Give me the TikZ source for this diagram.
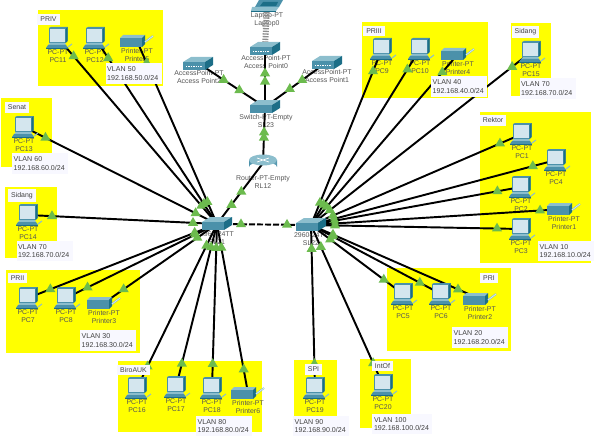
\documentclass[tikz,border=0pt]{standalone}
\usepackage{fontspec}
\setmainfont{Liberation Sans}
\usetikzlibrary{arrows.meta, positioning, shapes.geometric, calc}
\definecolor{zoneyellow}{RGB}{255, 255, 0}
\definecolor{notefill}{RGB}{248, 248, 255}
\definecolor{lampgreen}{RGB}{108, 187, 78}
\definecolor{devteal}{RGB}{75, 145, 170}
\definecolor{devdark}{RGB}{28, 110, 135}
\definecolor{devlight}{RGB}{140, 190, 205}
\definecolor{devscreen}{RGB}{212, 230, 238}
\definecolor{devtextcol}{RGB}{85, 85, 85}
\pgfdeclarelayer{zones}
\pgfdeclarelayer{links}
\pgfsetlayers{zones,links,main}

% name, position, icon, label offset, label
\newcommand{\devnode}[5]{
  \node[device] (#1) at (#2) {};
  \pic at (#1) {#3};
  \begin{pgfonlayer}{zones}
    \node[devtext] (#1txt) at ($(#1)+(#4)$) {#5};
  \end{pgfonlayer}
}
% link with its two lamps, d is the distance of the lamps from the ends
\newcommand{\devlink}[3][18pt]{
  \begin{pgfonlayer}{links}
    \draw[wire] (#2) -- (#3);
    \node[lamp] (#2#3a) at ($(#2)!#1!(#3)$) {};
    \node[lamp] (#2#3b) at ($(#3)!#1!(#2)$) {};
  \end{pgfonlayer}
}

\begin{document}
\begin{tikzpicture}[
  x=0.75pt, y=-0.75pt,
  zone/.style={fill=zoneyellow},
  device/.style={inner sep=0pt, outer sep=0pt, minimum size=0pt},
  devtext/.style={font=\fontsize{5.2}{5.8}\selectfont, text=devtextcol, align=center, inner sep=0pt},
  wire/.style={line width=1.45pt, black},
  lamp/.style={regular polygon, regular polygon sides=3, fill=lampgreen, inner sep=0pt, minimum size=8.8pt},
  vlanbox/.style={fill=notefill, font=\fontsize{5.3}{6.2}\selectfont, text=black!75, align=left,
                  minimum width=42pt, minimum height=15.5pt, inner sep=0pt, text width=39.5pt},
  titlebox/.style={fill=notefill, font=\fontsize{5.2}{6}\selectfont, text=black!75, inner sep=2.2pt},
  pcicon/.pic={
    \fill[devteal] (-9,-10) -- (-7,-11) -- (9.5,-11) -- (9.5,3) -- (7.5,5) -- (-9,5) -- cycle;
    \fill[devdark] (7.5,-9) -- (9.5,-11) -- (9.5,3) -- (7.5,5) -- cycle;
    \fill[devscreen] (-8,-9) rectangle (6.8,3.8);
    \fill[devlight] (-8,5) -- (7,5) -- (8,7) -- (-10,7) -- cycle;
    \fill[devteal] (-10,7) -- (8,7) -- (10,10) -- (-12,10) -- cycle;
    \fill[devdark] (-12,10) rectangle (10,10.8);
    \draw[devlight, line width=0.8pt] (10,9) -- (14,6);
  },
  printericon/.pic={
    \fill[devlight] (-17,-3) -- (-14,-6) -- (8,-6) -- (5,-3) -- cycle;
    \fill[devteal] (-17,-3) rectangle (5,6);
    \fill[devdark] (5,-3) -- (8,-6) -- (8,3) -- (5,6) -- cycle;
    \draw[devlight, line width=1.4pt] (8,1) -- (16,-5);
    \draw[white, line width=0.3pt] (8,1) -- (16,-5);
  },
  switchicon/.pic={
    \fill[devlight] (-15,-2) -- (-7,-7) -- (15,-7) -- (7,-2) -- cycle;
    \fill[devteal] (-15,-2) rectangle (7,6);
    \fill[devdark] (7,-2) -- (15,-7) -- (15,1) -- (7,6) -- cycle;
  },
  apicon/.pic={
    \fill[devlight] (-15,-1) -- (-7,-6) -- (15,-6) -- (7,-1) -- cycle;
    \fill[devteal] (-15,-1) rectangle (7,7);
    \fill[devdark] (7,-1) -- (15,-6) -- (15,2) -- (7,7) -- cycle;
    \draw[white, line width=0.7pt, dash pattern=on 1pt off 0.8pt] (-12,3) -- (4,3);
  },
  routericon/.pic={
    \shade[left color=devteal, right color=devteal, middle color=devscreen]
      (-14,-3) -- (-14,4) arc[start angle=180, end angle=360, x radius=14, y radius=5] -- (14,-3) -- cycle;
    \fill[devlight] (0,-3) ellipse[x radius=14, y radius=5.5];
    \draw[white, line width=0.5pt] (-6,-5) -- (6,-1) (-6,-1) -- (6,-5);
  },
  laptopicon/.pic={
    \fill[devteal] (-8,-5) -- (16,-5) -- (12,2) -- (-12,2) -- cycle;
    \fill[devdark] (-4,-3) -- (11,-3) -- (9,1) -- (-7,1) -- cycle;
    \fill[devlight] (-15,2) -- (12,2) -- (9,6) -- (-16,6) -- cycle;
    \fill[devdark] (-16,6) -- (9,6) -- (9,7) -- (-16,7) -- cycle;
  }
]
\useasboundingbox (0,0) rectangle (595,435);

\begin{pgfonlayer}{zones}
  \fill[zone] (38,10) rectangle (163,86);
  \fill[zone] (1,98) rectangle (52,167);
  \fill[zone] (5,187) rectangle (57,258);
  \fill[zone] (6,270) rectangle (140,353);
  \fill[zone] (118,361) rectangle (262,432);
  \fill[zone] (294,360) rectangle (337,416);
  \fill[zone] (360,359) rectangle (411,428);
  \fill[zone] (387,268) rectangle (511,351);
  \fill[zone] (480,112) rectangle (591,263);
  \fill[zone] (362,22) rectangle (488,98);
  \fill[zone] (511,23) rectangle (551,96);
\end{pgfonlayer}

% core
\devnode{SL21}{217,224}{switchicon}{0,14}{2960-24TT\\SL21}
\devnode{SL22}{311,225}{switchicon}{0,14}{2960-24TT\\SL22}
\devnode{RL12}{263,163}{routericon}{0,19}{Router-PT-Empty\\RL12}
\devnode{SL23}{265,107}{switchicon}{1,14}{Switch-PT-Empty\\SL23}
\devnode{AP0}{265,48}{apicon}{1,14}{AccessPoint-PT\\Access Point0}
\devnode{AP1}{327,62}{apicon}{0,14}{AccessPoint-PT\\Access Point1}
\devnode{AP2}{198,63}{apicon}{1,14}{AccessPoint-PT\\Access Point2}
\devnode{Laptop0}{267,5}{laptopicon}{0,15}{Laptop-PT\\Laptop0}

% left side
\devnode{PC11}{58,38}{pcicon}{0,18}{PC-PT\\PC11}
\devnode{PC12}{95,38}{pcicon}{0,18}{PC-PT\\PC12}
\devnode{Printer5}{137,41}{printericon}{0,14}{Printer-PT\\Printer5}
\devnode{PC13}{24,127}{pcicon}{0,18}{PC-PT\\PC13}
\devnode{PC14}{28,215}{pcicon}{0,18}{PC-PT\\PC14}
\devnode{PC7}{28,298}{pcicon}{0,18}{PC-PT\\PC7}
\devnode{PC8}{66,298}{pcicon}{0,18}{PC-PT\\PC8}
\devnode{Printer3}{104,303}{printericon}{0,14}{Printer-PT\\Printer3}
\devnode{PC16}{137,388}{pcicon}{0,18}{PC-PT\\PC16}
\devnode{PC17}{176,387}{pcicon}{0,18}{PC-PT\\PC17}
\devnode{PC18}{212,388}{pcicon}{0,18}{PC-PT\\PC18}
\devnode{Printer6}{248,393}{printericon}{0,14}{Printer-PT\\Printer6}

% right side
\devnode{PC9}{382,49}{pcicon}{0,18}{PC-PT\\PC9}
\devnode{PC10}{420,49}{pcicon}{0,18}{PC-PT\\PC10}
\devnode{Printer4}{458,54}{printericon}{0,14}{Printer-PT\\Printer4}
\devnode{PC15}{531,52}{pcicon}{0,18}{PC-PT\\PC15}
\devnode{PC1}{522,134}{pcicon}{0,18}{PC-PT\\PC1}
\devnode{PC4}{556,160}{pcicon}{0,18}{PC-PT\\PC4}
\devnode{PC2}{521,187}{pcicon}{0,18}{PC-PT\\PC2}
\devnode{Printer1}{564,209}{printericon}{0,14}{Printer-PT\\Printer1}
\devnode{PC3}{521,229}{pcicon}{0,18}{PC-PT\\PC3}
\devnode{PC5}{403,294}{pcicon}{0,18}{PC-PT\\PC5}
\devnode{PC6}{441,294}{pcicon}{0,18}{PC-PT\\PC6}
\devnode{Printer2}{480,299}{printericon}{0,14}{Printer-PT\\Printer2}
\devnode{PC19}{315,388}{pcicon}{0,18}{PC-PT\\PC19}
\devnode{PC20}{383,385}{pcicon}{0,18}{PC-PT\\PC20}

\devlink{SL21}{PC11}
\devlink{SL21}{PC12}
\devlink{SL21}{Printer5}
\devlink{SL21}{PC13}
\devlink{SL21}{PC14}
\devlink{SL21}{PC7}
\devlink{SL21}{PC8}
\devlink{SL21}{Printer3}
\devlink{SL21}{PC16}
\devlink{SL21}{PC17}
\devlink{SL21}{PC18}
\devlink{SL21}{Printer6}

\devlink{SL22}{PC9}
\devlink{SL22}{PC10}
\devlink{SL22}{Printer4}
\devlink{SL22}{PC15}
\devlink{SL22}{PC1}
\devlink{SL22}{PC4}
\devlink{SL22}{PC2}
\devlink{SL22}{Printer1}
\devlink{SL22}{PC3}
\devlink{SL22}{PC5}
\devlink{SL22}{PC6}
\devlink{SL22}{Printer2}
\devlink{SL22}{PC19}
\devlink{SL22}{PC20}

\devlink[19pt]{SL23}{RL12}
\devlink[19pt]{SL23}{AP0}
\devlink[23pt]{SL23}{AP1}
\devlink[23pt]{SL23}{AP2}

\begin{pgfonlayer}{links}
  \draw[wire] (RL12) -- (SL21);
  \node[lamp] (RLlampa) at ($(RL12)!27pt!(SL21)$) {};
  \node[lamp] (RLlampb) at ($(SL21)!18pt!(RL12)$) {};
  \draw[wire, dash pattern=on 4.5pt off 1.5pt] (SL21) -- (SL22);
  \node[lamp] (Tlampa) at ($(SL21)!18pt!(SL22)$) {};
  \node[lamp] (Tlampb) at ($(SL22)!18pt!(SL21)$) {};
  \draw[black!45, line width=4.5pt, dash pattern=on 1pt off 1pt] (AP0) -- (Laptop0);
\end{pgfonlayer}

% notes
\node[titlebox] (tPRIV) at (48.5,19.5) {PRIV};
\node[vlanbox] (vPRIV) at (133.5,73.5) {VLAN 50\\192.168.50.0/24};
\node[titlebox] (tSenat) at (17,107.5) {Senat};
\node[vlanbox] (vSenat) at (40,163.5) {VLAN 60\\192.168.60.0/24};
\node[titlebox] (tSidangL) at (22,195.5) {Sidang};
\node[vlanbox] (vSidangL) at (44.5,251) {VLAN 70\\192.168.70.0/24};
\node[titlebox] (tPRII) at (17.5,278) {PRII};
\node[vlanbox] (vPRII) at (108,340.5) {VLAN 30\\192.168.30.0/24};
\node[titlebox] (tBiro) at (133.5,370) {BiroAUK};
\node[vlanbox] (vBiro) at (224,426) {VLAN 80\\192.168.80.0/24};
\node[titlebox] (tSPI) at (313.5,369.5) {SPI};
\node[vlanbox] (vSPI) at (321,426) {VLAN 90\\192.168.90.0/24};
\node[titlebox] (tIntOf) at (382.5,366) {IntOf};
\node[vlanbox, minimum width=45pt, text width=42pt] (vIntOf) at (402,424) {VLAN 100\\192.168.100.0/24};
\node[titlebox] (tPRI) at (489,278) {PRI};
\node[vlanbox] (vPRI) at (480,337.5) {VLAN 20\\192.168.20.0/24};
\node[titlebox] (tRektor) at (493,120.5) {Rektor};
\node[vlanbox] (vRektor) at (566,251) {VLAN 10\\192.168.10.0/24};
\node[titlebox] (tPRIII) at (374,31) {PRIII};
\node[vlanbox] (vPRIII) at (459,86.5) {VLAN 40\\192.168.40.0/24};
\node[titlebox] (tSidangR) at (525.5,32) {Sidang};
\node[vlanbox] (vSidangR) at (547.5,88.5) {VLAN 70\\192.168.70.0/24};
\end{tikzpicture}
\end{document}
